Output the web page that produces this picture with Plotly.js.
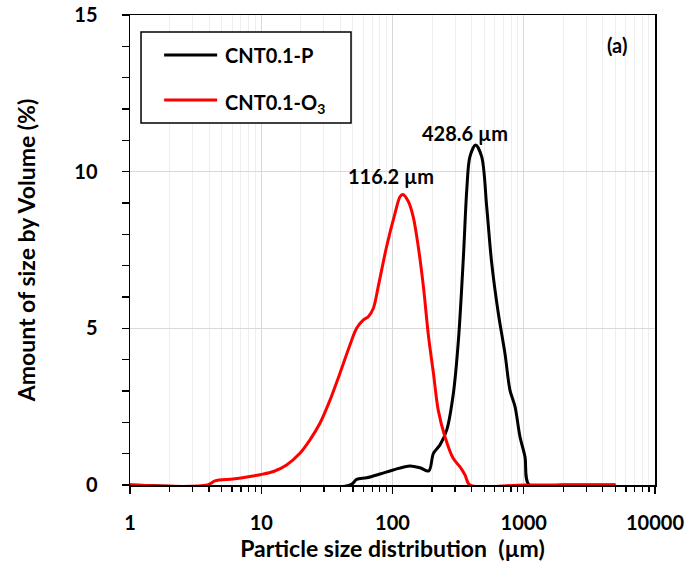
<!DOCTYPE html>
<html>
<head>
<meta charset="utf-8">
<script src="https://cdn.plot.ly/plotly-3.0.1.min.js"></script>
<style>html,body{margin:0;padding:0;background:#fff;}#chart{width:688px;height:562px;}</style>
</head>
<body>
<div id="chart"></div>
<script>
// CNT0.1-P (black)
const sizeP = [1, 47.7, 53.3, 63.6, 80.3, 101, 136, 162, 189, 205, 230, 259, 291, 318, 347, 368, 389, 430, 478, 522, 570, 640, 719, 785, 858, 936, 1022, 1100, 2000, 5000];
const volP  = [0, 0, 0.18, 0.23, 0.35, 0.48, 0.61, 0.55, 0.45, 1.01, 1.28, 1.76, 2.93, 4.63, 7.29, 9.42, 10.48, 10.85, 10.48, 8.88, 7.08, 5.48, 4.2, 3.03, 2.5, 1.54, 0.9, 0, 0, 0];
// CNT0.1-O3 (red)
const sizeO3 = [1, 3.9, 4.44, 6.1, 8.2, 9.8, 12.4, 15.6, 19.7, 23.5, 28, 33.4, 39.8, 47.4, 53.3, 60, 65.4, 71.5, 78, 90.3, 104.5, 114, 119.6, 132, 144, 157, 172, 188, 205, 223, 251, 290, 327, 357, 389, 1000, 5000];
const volO3  = [0, 0, 0.13, 0.19, 0.27, 0.33, 0.43, 0.64, 1.01, 1.44, 1.97, 2.71, 3.57, 4.47, 5.0, 5.27, 5.37, 5.64, 6.35, 7.62, 8.67, 9.2, 9.27, 9.05, 8.55, 7.62, 6.33, 4.75, 3.57, 2.39, 1.54, 0.85, 0.58, 0.32, 0, 0, 0];

const seriesNames = ["CNT0.1-P", "CNT0.1-O<sub>3</sub>"];
const xTickVals = [1, 10, 100, 1000, 10000];
const xTickText = ["1", "10", "100", "1000", "10000"];
const yTickVals = [0, 5, 10, 15];
const yTickText = ["0", "5", "10", "15"];
const peakLabels = ["116.2 µm", "428.6 µm"];
const peakSizes = [116.2, 428.6];
const peakLabelY = [9.86, 11.23];

const FONT = "Lato, 'Open Sans', sans-serif";
const b = s => "<b>" + s + "</b>";

const traces = [
  {x: sizeP, y: volP, type: "scatter", mode: "lines", name: seriesNames[0],
   line: {color: "#000000", width: 3, shape: "spline", smoothing: 0.9}, showlegend: false},
  {x: sizeO3, y: volO3, type: "scatter", mode: "lines", name: seriesNames[1],
   line: {color: "#ff0000", width: 3, shape: "spline", smoothing: 0.9}, showlegend: false}
];

const layout = {
  width: 688, height: 562,
  margin: {l: 130, r: 33, t: 15, b: 77},
  paper_bgcolor: "#fff", plot_bgcolor: "#fff",
  font: {family: FONT, color: "#000", size: 20},
  showlegend: false,
  xaxis: {
    type: "log", range: [0, 4],
    tickvals: xTickVals, ticktext: xTickText.map(b),
    ticks: "outside", ticklen: 7, tickwidth: 1.3, tickcolor: "#000",
    showline: true, linecolor: "#000", linewidth: 1.5, mirror: true,
    showgrid: true, gridcolor: "#d9d9d9", gridwidth: 1,
    minor: {dtick: "D1", showgrid: true, gridcolor: "#eeeeee", gridwidth: 1, ticks: "outside", ticklen: 5, tickcolor: "#000"},
    tickfont: {family: FONT, size: 20, color: "#000"},
    ticklabelstandoff: 12,
    zeroline: false,
    title: {text: b("Particle size distribution  (µm)"), font: {family: FONT, size: 23, color: "#000"}, standoff: 8}
  },
  yaxis: {
    range: [0, 15], tickvals: yTickVals, ticktext: yTickText.map(b),
    ticks: "outside", ticklen: 7, tickwidth: 1.3, tickcolor: "#000",
    showline: true, linecolor: "#000", linewidth: 1.5, mirror: true,
    showgrid: true, gridcolor: "#d9d9d9", gridwidth: 1,
    minor: {dtick: 1, ticks: "outside", ticklen: 7, tickcolor: "#000", showgrid: false},
    tickfont: {family: FONT, size: 20, color: "#000"},
    ticklabelstandoff: 20,
    zeroline: false,
    title: {text: b("Amount of size by Volume (%)"), font: {family: FONT, size: 23, color: "#000"}, standoff: 32}
  },
  shapes: [
    {type: "rect", xref: "paper", yref: "paper", x0: 0.021, x1: 0.421, y0: 0.770, y1: 0.964,
     line: {color: "#000", width: 1.5}, fillcolor: "#fff", layer: "above"},
    {type: "line", xref: "paper", yref: "paper", x0: 0.065, x1: 0.166, y0: 0.915, y1: 0.915,
     line: {color: "#000", width: 3}},
    {type: "line", xref: "paper", yref: "paper", x0: 0.065, x1: 0.166, y0: 0.819, y1: 0.819,
     line: {color: "#ff0000", width: 3}}
  ],
  annotations: [
    {xref: "paper", yref: "paper", x: 0.177, y: 0.915, xanchor: "left", yanchor: "middle", showarrow: false,
     text: b(seriesNames[0]), font: {family: FONT, size: 20, color: "#000"}},
    {xref: "paper", yref: "paper", x: 0.177, y: 0.812, xanchor: "left", yanchor: "middle", showarrow: false,
     text: b(seriesNames[1]), font: {family: FONT, size: 20, color: "#000"}},
    {xref: "x", yref: "y", x: Math.log10(peakSizes[0]) - 0.08, y: peakLabelY[0], showarrow: false,
     text: b(peakLabels[0]), font: {family: FONT, size: 20, color: "#000"}},
    {xref: "x", yref: "y", x: Math.log10(peakSizes[1]) - 0.08, y: peakLabelY[1], showarrow: false,
     text: b(peakLabels[1]), font: {family: FONT, size: 20, color: "#000"}},
    {xref: "x", yref: "y", x: 3.71, y: 14.04, showarrow: false,
     text: b("(a)"), font: {family: FONT, size: 20, color: "#000"}}
  ]
};

Plotly.newPlot("chart", traces, layout, {staticPlot: true, displayModeBar: false});
</script>
</body>
</html>
